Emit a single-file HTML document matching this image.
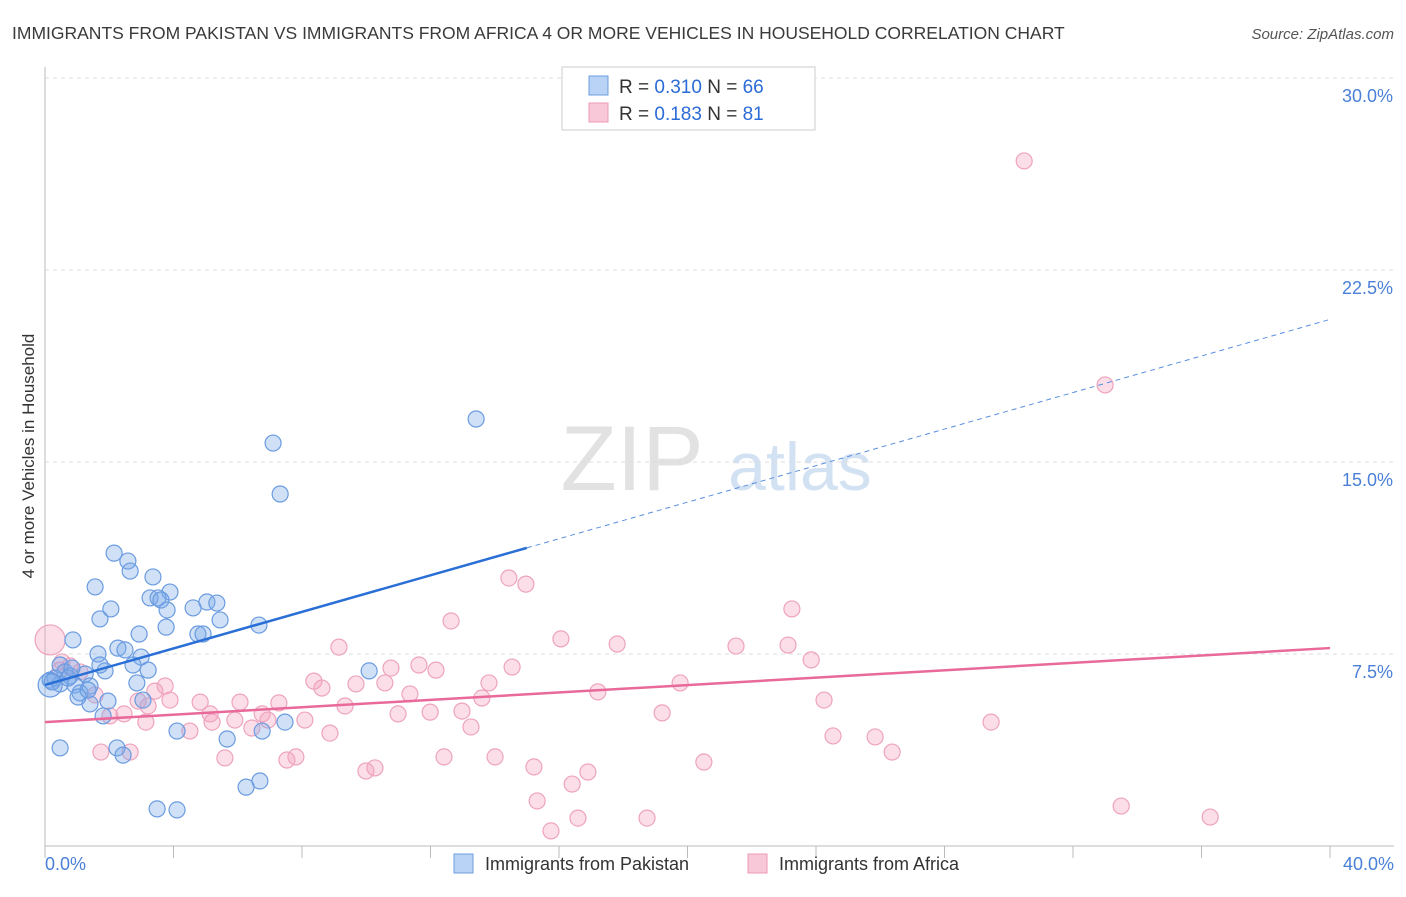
<!DOCTYPE html>
<html><head><meta charset="utf-8"><style>
body{margin:0;background:#fff;font-family:"Liberation Sans",sans-serif;}
svg text{font-family:"Liberation Sans",sans-serif;}
</style></head><body>
<svg id="chart" width="1406" height="892" viewBox="0 0 1406 892" xmlns="http://www.w3.org/2000/svg">
<text x="12" y="39" font-size="17.5" fill="#3a3a3a">IMMIGRANTS FROM PAKISTAN VS IMMIGRANTS FROM AFRICA 4 OR MORE VEHICLES IN HOUSEHOLD CORRELATION CHART</text>
<text x="1394" y="39" font-size="15" fill="#555" font-style="italic" text-anchor="end">Source: ZipAtlas.com</text>
<g>
<text x="632" y="490" font-size="92" fill="#e2e2e2" font-family="Liberation Serif" text-anchor="middle">ZIP</text>
<text x="800" y="490" font-size="68" fill="#d3e2f3" text-anchor="middle">atlas</text>
</g>
<g id="grid"></g>
<g id="axes"></g>
<g id="pts"></g>
<g id="trends"></g>
<text transform="translate(34,456) rotate(-90)" font-size="17" fill="#333" text-anchor="middle">4 or more Vehicles in Household</text>
<g>
<rect x="562" y="67" width="253" height="63" fill="#fff" stroke="#ccc"/>
<rect x="589" y="76" width="19" height="19" fill="#b8d3f5" stroke="#6d9de0"/>
<rect x="589" y="103" width="19" height="19" fill="#f9c8d8" stroke="#ec9ab5"/>
<text x="619" y="93" font-size="19" fill="#333">R = <tspan fill="#2b6bd6">0.310</tspan>   N = <tspan fill="#2b6bd6">66</tspan></text>
<text x="619" y="120" font-size="19" fill="#333">R =  <tspan fill="#2b6bd6">0.183</tspan>   N =  <tspan fill="#2b6bd6">81</tspan></text>
</g>
<g>
<rect x="454" y="854" width="19" height="19" fill="#b8d3f5" stroke="#6d9de0"/>
<text x="485" y="870" font-size="18" fill="#333">Immigrants from Pakistan</text>
<rect x="748" y="854" width="19" height="19" fill="#f9c8d8" stroke="#ec9ab5"/>
<text x="779" y="870" font-size="18" fill="#333">Immigrants from Africa</text>
</g>
</svg>
<script>
const xTicks=[0,40];
const yTicks=[7.5,15,22.5,30];
const yTickLabels=["7.5%","15.0%","22.5%","30.0%"];
const blueX=[13.42,7.10,7.32,2.15,2.58,2.65,3.36,1.56,3.89,3.27,3.52,3.61,5.04,5.35,2.05,3.80,4.61,1.71,5.45,3.77,6.66,2.93,4.76,4.92,0.87,2.27,2.49,1.65,2.99,2.74,3.21,0.47,1.87,10.09,0.62,1.25,0.78,0.31,0.16,2.86,1.40,0.93,0.47,1.09,1.03,1.96,3.05,1.40,1.81,7.47,6.76,4.11,5.67,0.47,2.24,2.43,6.69,6.26,3.49,4.11,0.16,0.22,0.72,1.34,0.84,1.71];
const blueY=[16.68,15.74,13.75,11.44,11.13,10.74,10.51,10.12,9.92,9.69,9.69,9.61,9.53,9.49,9.26,9.22,9.30,8.87,8.83,8.55,8.63,8.28,8.28,8.28,8.05,7.73,7.66,7.50,7.38,7.07,6.87,7.07,6.84,6.84,6.80,6.72,6.64,6.56,6.48,6.37,6.25,6.29,6.33,5.98,5.82,5.66,5.70,5.55,5.08,4.84,4.49,4.49,4.18,3.83,3.83,3.55,2.54,2.30,1.45,1.41,6.29,6.41,6.56,6.09,6.95,7.07];
const pinkX=[30.48,33.00,14.44,14.97,23.25,12.64,16.06,17.81,21.51,23.13,9.15,23.85,14.54,11.64,10.77,12.17,8.37,9.68,10.58,13.82,19.77,8.62,17.21,11.36,13.60,24.25,3.42,3.89,6.07,4.83,9.34,11.99,12.98,10.99,7.28,5.14,5.91,6.76,6.94,8.09,5.20,3.14,2.46,2.02,19.21,29.45,13.26,6.44,4.51,8.87,24.53,25.84,26.37,2.65,1.74,5.60,7.81,7.53,12.42,14.01,20.51,15.22,10.27,9.99,16.90,16.41,15.32,33.50,36.27,16.59,18.74,15.75,0.16,0.53,0.78,1.09,1.56,0.47,3.74,2.90,3.21];
const pinkY=[26.76,18.01,10.47,10.23,9.26,8.79,8.09,7.89,7.81,7.85,7.77,7.27,6.99,7.07,6.95,6.87,6.44,6.33,6.37,6.37,6.37,6.17,6.02,5.94,5.78,5.70,6.05,5.70,5.62,5.62,5.47,5.23,5.27,5.16,5.59,5.16,4.92,5.16,4.92,4.92,4.84,4.84,5.16,5.08,5.20,4.84,4.65,4.61,4.49,4.41,4.30,4.26,3.67,3.67,3.67,3.44,3.48,3.36,3.48,3.48,3.28,3.09,3.05,2.93,2.89,2.42,1.76,1.56,1.13,1.09,1.09,0.59,8.05,7.19,7.03,6.80,5.90,6.87,6.25,5.66,5.47];
const blueTrend=[6.29,0.357];
const pinkTrend=[4.84,0.0723];
const NS="http://www.w3.org/2000/svg";
const X0=45,X1=1330,Y0=846,YTOP=78;
function sx(v){return X0+(v/40)*(X1-X0);}
function sy(v){return Y0-(v/30)*(Y0-YTOP);}
function mk(tag,attrs,parent){const e=document.createElementNS(NS,tag);for(const k in attrs)e.setAttribute(k,attrs[k]);parent.appendChild(e);return e;}
const grid=document.getElementById('grid'),axes=document.getElementById('axes'),pts=document.getElementById('pts'),trends=document.getElementById('trends');
yTicks.forEach((t,i)=>{
 const l=mk('line',{x1:X0,x2:1394,y1:sy(t),y2:sy(t),stroke:'#dcdcdc','stroke-dasharray':'4,4'},grid);
 
 
 const tx=mk('text',{x:1393,y:sy(t)+24,'font-size':18,fill:'#4a80d8','text-anchor':'end'},grid);
 tx.textContent=yTickLabels[i];
 
 
});
const ax=mk('line',{x1:X0,x2:X1+64,y1:Y0,y2:Y0,stroke:'#bbb'},axes);


const ay=mk('line',{x1:X0,x2:X0,y1:67,y2:Y0,stroke:'#bbb'},axes);


for(let i=0;i<=10;i++){
 const tk=mk('line',{x1:sx(i*4),x2:sx(i*4),y1:Y0,y2:Y0+12,stroke:'#bbb'},axes);
 
 
}
xTicks.forEach((t,i)=>{
 const tx=mk('text',{x:i==0?X0:1394,y:870,'font-size':18,fill:'#4a80d8','text-anchor':i==0?'start':'end'},axes);
 tx.textContent=t.toFixed(1)+'%';
 
 
});
pinkX.forEach((v,i)=>{
 const c=mk('circle',{cx:sx(v),cy:sy(pinkY[i]),r:(i==72?15:8),fill:'rgba(244,160,188,0.35)',stroke:'#eea3bd','stroke-width':1.2},pts);
 
 
});
blueX.forEach((v,i)=>{
 const c=mk('circle',{cx:sx(v),cy:sy(blueY[i]),r:(i==60?12:8),fill:'rgba(120,168,232,0.35)',stroke:'#6a9be0','stroke-width':1.2},pts);
 
 
});
const bx=15;
const b1=mk('line',{x1:sx(0),y1:sy(blueTrend[0]),x2:sx(bx),y2:sy(blueTrend[0]+blueTrend[1]*bx),stroke:'#2a6fd6','stroke-width':2.5},trends);


const b2=mk('line',{x1:sx(bx),y1:sy(blueTrend[0]+blueTrend[1]*bx),x2:sx(40),y2:sy(blueTrend[0]+blueTrend[1]*40),stroke:'#5a8fe0','stroke-width':1,'stroke-dasharray':'5,4'},trends);


const p1=mk('line',{x1:sx(0),y1:sy(pinkTrend[0]),x2:sx(40),y2:sy(pinkTrend[0]+pinkTrend[1]*40),stroke:'#e8699a','stroke-width':2.5},trends);


</script>
</body></html>
